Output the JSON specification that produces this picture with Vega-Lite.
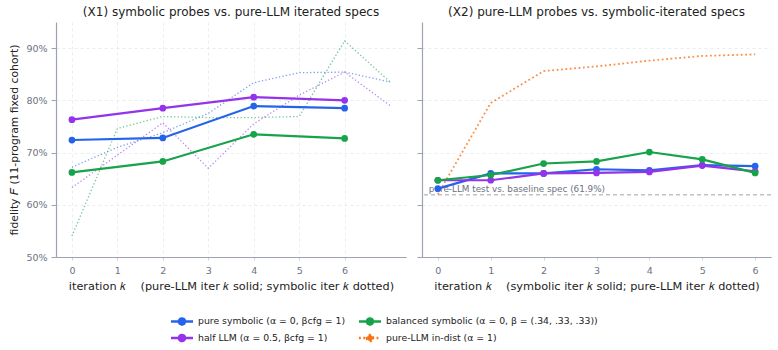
{
  "$schema": "https://vega.github.io/schema/vega-lite/v6.json",
  "background": "white",
  "padding": {"left": 8, "top": 6, "right": 4, "bottom": 2},
  "spacing": 10,
  "config": {
    "font": "DejaVu Sans",
    "view": {"stroke": null},
    "title": {"fontSize": 12, "fontWeight": "normal", "color": "#222222", "offset": 3},
    "axis": {
      "domainColor": "#9ca3af",
      "domainWidth": 1.2,
      "tickColor": "#d1d5db",
      "gridColor": "#e5e7eb",
      "gridDash": [3, 3],
      "gridWidth": 0.8,
      "labelColor": "#6b7280",
      "labelFontSize": 9.5,
      "titleColor": "#222222",
      "titleFontSize": 11.3,
      "titleFontWeight": "normal"
    },
    "axisX": {"tickSize": 3, "labelPadding": 5, "titlePadding": 6},
    "axisY": {"tickSize": 5, "tickColor": "#9ca3af", "labelPadding": 4, "titlePadding": 6, "titleFontSize": 10.8},
    "legend": {
      "title": null,
      "columns": 2,
      "columnPadding": 8,
      "rowPadding": -1,
      "symbolType": "M-2,0H2M-0.55,0A0.55,0.55 0 1,0 0.55,0A0.55,0.55 0 1,0 -0.55,0",
      "symbolSize": 121,
      "symbolStrokeWidth": 2.5,
      "symbolOpacity": 1,
      "labelFontSize": 9.3,
      "labelColor": "#222222",
      "labelOffset": 9,
      "labelLimit": 400
    }
  },
  "datasets": {
    "x1": [
      {"config": "pure symbolic (α = 0, βcfg = 1)", "iter": "pure-LLM", "k": 0, "F": 0.724},
      {"config": "pure symbolic (α = 0, βcfg = 1)", "iter": "pure-LLM", "k": 2, "F": 0.728},
      {"config": "pure symbolic (α = 0, βcfg = 1)", "iter": "pure-LLM", "k": 4, "F": 0.789},
      {"config": "pure symbolic (α = 0, βcfg = 1)", "iter": "pure-LLM", "k": 6, "F": 0.785},
      {"config": "half LLM (α = 0.5, βcfg = 1)", "iter": "pure-LLM", "k": 0, "F": 0.763},
      {"config": "half LLM (α = 0.5, βcfg = 1)", "iter": "pure-LLM", "k": 2, "F": 0.785},
      {"config": "half LLM (α = 0.5, βcfg = 1)", "iter": "pure-LLM", "k": 4, "F": 0.806},
      {"config": "half LLM (α = 0.5, βcfg = 1)", "iter": "pure-LLM", "k": 6, "F": 0.800},
      {"config": "balanced symbolic (α = 0, β = (.34, .33, .33))", "iter": "pure-LLM", "k": 0, "F": 0.662},
      {"config": "balanced symbolic (α = 0, β = (.34, .33, .33))", "iter": "pure-LLM", "k": 2, "F": 0.683},
      {"config": "balanced symbolic (α = 0, β = (.34, .33, .33))", "iter": "pure-LLM", "k": 4, "F": 0.735},
      {"config": "balanced symbolic (α = 0, β = (.34, .33, .33))", "iter": "pure-LLM", "k": 6, "F": 0.727},
      {"config": "pure symbolic (α = 0, βcfg = 1)", "iter": "symbolic", "k": 0, "F": 0.672},
      {"config": "pure symbolic (α = 0, βcfg = 1)", "iter": "symbolic", "k": 1, "F": 0.710},
      {"config": "pure symbolic (α = 0, βcfg = 1)", "iter": "symbolic", "k": 2, "F": 0.738},
      {"config": "pure symbolic (α = 0, βcfg = 1)", "iter": "symbolic", "k": 3, "F": 0.775},
      {"config": "pure symbolic (α = 0, βcfg = 1)", "iter": "symbolic", "k": 4, "F": 0.834},
      {"config": "pure symbolic (α = 0, βcfg = 1)", "iter": "symbolic", "k": 5, "F": 0.853},
      {"config": "pure symbolic (α = 0, βcfg = 1)", "iter": "symbolic", "k": 6, "F": 0.854},
      {"config": "pure symbolic (α = 0, βcfg = 1)", "iter": "symbolic", "k": 7, "F": 0.835},
      {"config": "half LLM (α = 0.5, βcfg = 1)", "iter": "symbolic", "k": 0, "F": 0.633},
      {"config": "half LLM (α = 0.5, βcfg = 1)", "iter": "symbolic", "k": 1, "F": 0.695},
      {"config": "half LLM (α = 0.5, βcfg = 1)", "iter": "symbolic", "k": 2, "F": 0.757},
      {"config": "half LLM (α = 0.5, βcfg = 1)", "iter": "symbolic", "k": 3, "F": 0.670},
      {"config": "half LLM (α = 0.5, βcfg = 1)", "iter": "symbolic", "k": 4, "F": 0.755},
      {"config": "half LLM (α = 0.5, βcfg = 1)", "iter": "symbolic", "k": 5, "F": 0.810},
      {"config": "half LLM (α = 0.5, βcfg = 1)", "iter": "symbolic", "k": 6, "F": 0.854},
      {"config": "half LLM (α = 0.5, βcfg = 1)", "iter": "symbolic", "k": 7, "F": 0.790},
      {"config": "balanced symbolic (α = 0, β = (.34, .33, .33))", "iter": "symbolic", "k": 0, "F": 0.540},
      {"config": "balanced symbolic (α = 0, β = (.34, .33, .33))", "iter": "symbolic", "k": 1, "F": 0.746},
      {"config": "balanced symbolic (α = 0, β = (.34, .33, .33))", "iter": "symbolic", "k": 2, "F": 0.769},
      {"config": "balanced symbolic (α = 0, β = (.34, .33, .33))", "iter": "symbolic", "k": 3, "F": 0.767},
      {"config": "balanced symbolic (α = 0, β = (.34, .33, .33))", "iter": "symbolic", "k": 4, "F": 0.767},
      {"config": "balanced symbolic (α = 0, β = (.34, .33, .33))", "iter": "symbolic", "k": 5, "F": 0.769},
      {"config": "balanced symbolic (α = 0, β = (.34, .33, .33))", "iter": "symbolic", "k": 6, "F": 0.914},
      {"config": "balanced symbolic (α = 0, β = (.34, .33, .33))", "iter": "symbolic", "k": 7, "F": 0.835}
    ],
    "x2": [
      {"config": "pure symbolic (α = 0, βcfg = 1)", "iter": "symbolic", "k": 0, "F": 0.631},
      {"config": "pure symbolic (α = 0, βcfg = 1)", "iter": "symbolic", "k": 1, "F": 0.660},
      {"config": "pure symbolic (α = 0, βcfg = 1)", "iter": "symbolic", "k": 2, "F": 0.660},
      {"config": "pure symbolic (α = 0, βcfg = 1)", "iter": "symbolic", "k": 3, "F": 0.668},
      {"config": "pure symbolic (α = 0, βcfg = 1)", "iter": "symbolic", "k": 4, "F": 0.666},
      {"config": "pure symbolic (α = 0, βcfg = 1)", "iter": "symbolic", "k": 5, "F": 0.676},
      {"config": "pure symbolic (α = 0, βcfg = 1)", "iter": "symbolic", "k": 6, "F": 0.674},
      {"config": "half LLM (α = 0.5, βcfg = 1)", "iter": "symbolic", "k": 0, "F": 0.647},
      {"config": "half LLM (α = 0.5, βcfg = 1)", "iter": "symbolic", "k": 1, "F": 0.647},
      {"config": "half LLM (α = 0.5, βcfg = 1)", "iter": "symbolic", "k": 2, "F": 0.660},
      {"config": "half LLM (α = 0.5, βcfg = 1)", "iter": "symbolic", "k": 3, "F": 0.661},
      {"config": "half LLM (α = 0.5, βcfg = 1)", "iter": "symbolic", "k": 4, "F": 0.663},
      {"config": "half LLM (α = 0.5, βcfg = 1)", "iter": "symbolic", "k": 5, "F": 0.675},
      {"config": "half LLM (α = 0.5, βcfg = 1)", "iter": "symbolic", "k": 6, "F": 0.664},
      {"config": "balanced symbolic (α = 0, β = (.34, .33, .33))", "iter": "symbolic", "k": 0, "F": 0.647},
      {"config": "balanced symbolic (α = 0, β = (.34, .33, .33))", "iter": "symbolic", "k": 1, "F": 0.657},
      {"config": "balanced symbolic (α = 0, β = (.34, .33, .33))", "iter": "symbolic", "k": 2, "F": 0.679},
      {"config": "balanced symbolic (α = 0, β = (.34, .33, .33))", "iter": "symbolic", "k": 3, "F": 0.683},
      {"config": "balanced symbolic (α = 0, β = (.34, .33, .33))", "iter": "symbolic", "k": 4, "F": 0.701},
      {"config": "balanced symbolic (α = 0, β = (.34, .33, .33))", "iter": "symbolic", "k": 5, "F": 0.687},
      {"config": "balanced symbolic (α = 0, β = (.34, .33, .33))", "iter": "symbolic", "k": 6, "F": 0.661},
      {"config": "pure-LLM in-dist (α = 1)", "iter": "pure-LLM", "k": 0, "F": 0.620},
      {"config": "pure-LLM in-dist (α = 1)", "iter": "pure-LLM", "k": 1, "F": 0.795},
      {"config": "pure-LLM in-dist (α = 1)", "iter": "pure-LLM", "k": 2, "F": 0.856},
      {"config": "pure-LLM in-dist (α = 1)", "iter": "pure-LLM", "k": 3, "F": 0.865},
      {"config": "pure-LLM in-dist (α = 1)", "iter": "pure-LLM", "k": 4, "F": 0.876},
      {"config": "pure-LLM in-dist (α = 1)", "iter": "pure-LLM", "k": 5, "F": 0.885},
      {"config": "pure-LLM in-dist (α = 1)", "iter": "pure-LLM", "k": 6, "F": 0.888}
    ],
    "base": [
      {"F": 0.619, "label": "pure-LLM test vs. baseline spec (61.9%)"}
    ]
  },
  "hconcat": [
    {
      "width": 350,
      "height": 235,
      "title": "(X1) symbolic probes vs. pure-LLM iterated specs",
      "data": {"name": "x1"},
      "encoding": {
        "x": {"field": "k", "type": "quantitative",
              "scale": {"domain": [-0.35, 7.35], "nice": false, "zero": false},
              "axis": {"values": [0, 1, 2, 3, 4, 5, 6], "format": "d",
                       "title": "iteration 𝑘\u00a0\u00a0\u00a0\u00a0(pure-LLM iter 𝑘 solid; symbolic iter 𝑘 dotted)"}},
        "y": {"field": "F", "type": "quantitative",
              "scale": {"domain": [0.5, 0.95], "nice": false, "zero": false},
              "axis": {"values": [0.5, 0.6, 0.7, 0.8, 0.9], "format": ".0%",
                       "title": "fidelity 𝐹 (11-program fixed cohort)"}},
        "color": {"field": "config", "type": "nominal",
                  "scale": {"domain": ["pure symbolic (α = 0, βcfg = 1)", "half LLM (α = 0.5, βcfg = 1)", "balanced symbolic (α = 0, β = (.34, .33, .33))", "pure-LLM in-dist (α = 1)"],
                            "range": ["#2563eb", "#9333ea", "#16a34a", "#f97316"]},
                  "legend": {"title": null, "orient": "none", "legendX": 119, "legendY": 292}}
      },
      "layer": [
        {
          "transform": [{"filter": "datum.iter === 'symbolic'"}],
          "mark": {"type": "line", "strokeDash": [1.3, 2.2], "strokeWidth": 1.3, "opacity": 0.6}
        },
        {
          "transform": [{"filter": "datum.iter === 'pure-LLM'"}],
          "mark": {"type": "line", "strokeWidth": 2.2, "point": {"filled": true, "size": 45}}
        }
      ]
    },
    {
      "width": 349,
      "height": 235,
      "title": "(X2) pure-LLM probes vs. symbolic-iterated specs",
      "layer": [
        {
          "data": {"name": "base"},
          "mark": {"type": "rule", "strokeDash": [4, 3], "color": "#9ca3af", "strokeWidth": 1},
          "encoding": {
            "y": {"field": "F", "type": "quantitative",
                  "scale": {"domain": [0.5, 0.95], "nice": false, "zero": false}}
          }
        },
        {
          "data": {"name": "base"},
          "mark": {"type": "text", "align": "left", "baseline": "bottom", "dy": -1, "fontSize": 8.8, "color": "#6b7280"},
          "encoding": {
            "x": {"datum": -0.17, "type": "quantitative",
                  "scale": {"domain": [-0.3, 6.3], "nice": false, "zero": false}},
            "y": {"field": "F", "type": "quantitative",
                  "scale": {"domain": [0.5, 0.95], "nice": false, "zero": false}},
            "text": {"field": "label"}
          }
        },
        {
          "data": {"name": "x2"},
          "transform": [{"filter": "datum.iter === 'pure-LLM'"}],
          "mark": {"type": "line", "strokeWidth": 1.8, "opacity": 0.8},
          "encoding": {
            "x": {"field": "k", "type": "quantitative",
                  "scale": {"domain": [-0.3, 6.3], "nice": false, "zero": false}},
            "y": {"field": "F", "type": "quantitative",
                  "scale": {"domain": [0.5, 0.95], "nice": false, "zero": false}},
            "color": {"field": "config", "type": "nominal"},
            "strokeDash": {"field": "config", "type": "nominal",
                           "scale": {"domain": ["pure symbolic (α = 0, βcfg = 1)", "half LLM (α = 0.5, βcfg = 1)", "balanced symbolic (α = 0, β = (.34, .33, .33))", "pure-LLM in-dist (α = 1)"],
                                     "range": [[1, 0], [1, 0], [1, 0], [1.8, 2.6]]},
                           "legend": {"title": null, "orient": "none", "legendX": 119, "legendY": 292}}
          }
        },
        {
          "data": {"name": "x2"},
          "transform": [{"filter": "datum.iter === 'symbolic'"}],
          "mark": {"type": "line", "strokeWidth": 2.2, "point": {"filled": true, "size": 45}},
          "encoding": {
            "x": {"field": "k", "type": "quantitative",
                  "scale": {"domain": [-0.3, 6.3], "nice": false, "zero": false},
                  "axis": {"values": [0, 1, 2, 3, 4, 5, 6], "format": "d",
                           "title": "iteration 𝑘\u00a0\u00a0\u00a0\u00a0(symbolic iter 𝑘 solid; pure-LLM iter 𝑘 dotted)"}},
            "y": {"field": "F", "type": "quantitative",
                  "scale": {"domain": [0.5, 0.95], "nice": false, "zero": false},
                  "axis": {"values": [0.5, 0.6, 0.7, 0.8, 0.9], "labels": false, "title": null}},
            "color": {"field": "config", "type": "nominal"}
          }
        }
      ]
    }
  ]
}
